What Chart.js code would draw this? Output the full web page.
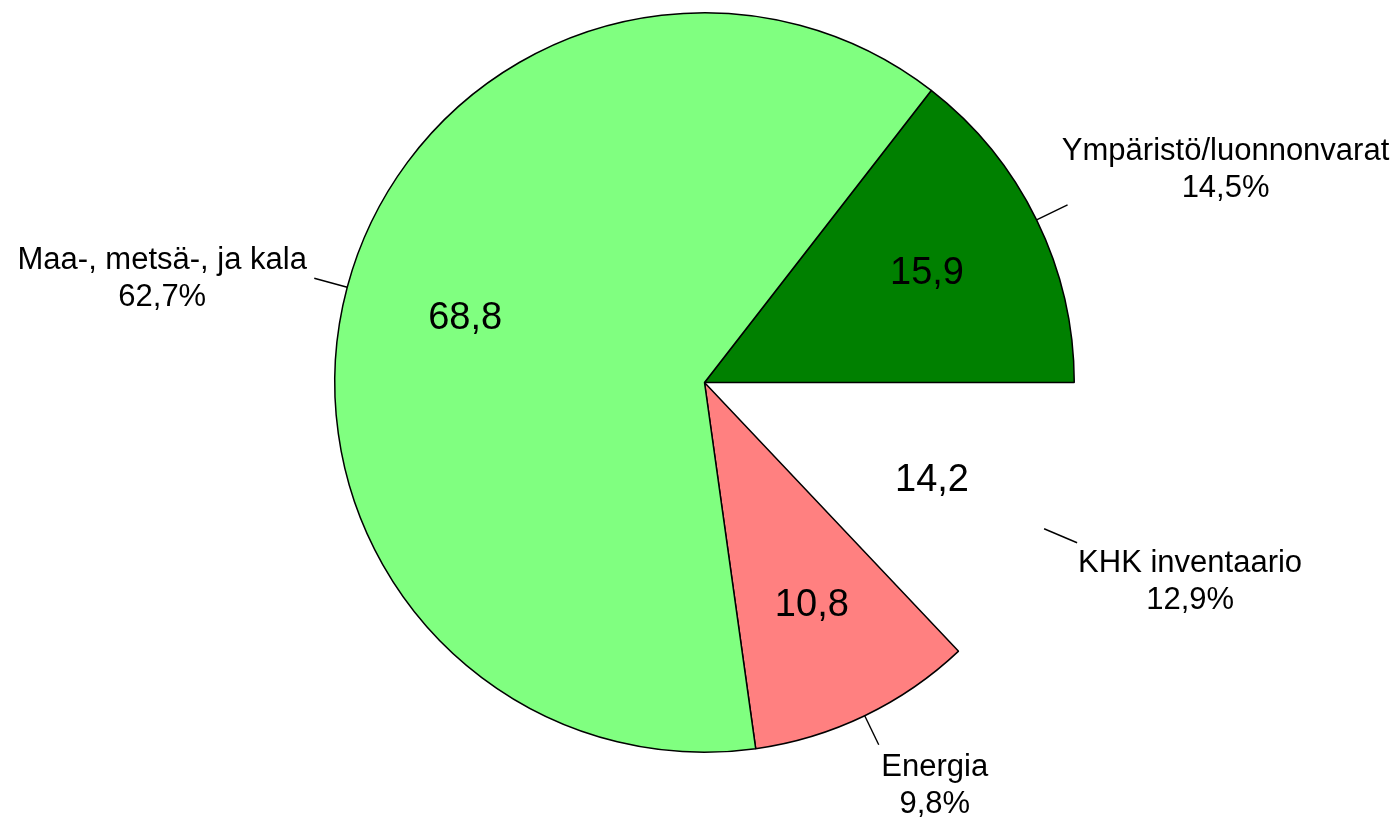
<!DOCTYPE html>
<html>
<head>
<meta charset="utf-8">
<script src="https://cdn.jsdelivr.net/npm/chart.js@4.4.1/dist/chart.umd.min.js"></script>
<style>
  html, body { margin: 0; padding: 0; background: #ffffff; }
  #wrap { width: 1395px; height: 820px; }
</style>
</head>
<body>
<div id="wrap"><canvas id="c" width="1395" height="820"></canvas></div>
<script>
// ---- data ----
const categories = ['Ympäristö/luonnonvarat', 'KHK inventaario', 'Energia', 'Maa-, metsä-, ja kala'];
const values = [15.9, 14.2, 10.8, 68.8];

// ---- styles ----
const sliceColors = ['#008000', 'rgba(0,0,0,0)', '#FF8080', '#80FF80'];
const sliceBorders = [1.5, 0, 1.5, 1.5];

// label placement (offsets from the slice's outer-arc midpoint, in px)
const leaderEnd = [[31, -15], [33, 14], [14, 29], [-33, -9]];
const textAnchor = [[189, -60], [146, 43], [70, 60], [-185, -18]];

const total = values.reduce((a, b) => a + b, 0);
const fmt = v => v.toFixed(1).replace('.', ',');

const labelPlugin = {
  id: 'pieLabels',
  afterDatasetsDraw(chart) {
    const ctx = chart.ctx;
    const meta = chart.getDatasetMeta(0);
    meta.data.forEach((arc, i) => {
      const p = arc.getProps(['x', 'y', 'startAngle', 'endAngle', 'outerRadius'], true);
      const mid = (p.startAngle + p.endAngle) / 2;
      const r = p.outerRadius;
      // inner value label
      const ir = r * 0.67;
      const ix = p.x + Math.cos(mid) * ir;
      const iy = p.y + Math.sin(mid) * ir;
      ctx.save();
      ctx.fillStyle = '#000';
      ctx.font = '38px "Liberation Sans", Arial, sans-serif';
      ctx.textAlign = 'center';
      ctx.textBaseline = 'middle';
      ctx.fillText(fmt(values[i]), ix, iy);
      // leader line
      const ax = p.x + Math.cos(mid) * r;
      const ay = p.y + Math.sin(mid) * r;
      ctx.strokeStyle = '#000';
      ctx.lineWidth = 1.4;
      ctx.beginPath();
      ctx.moveTo(ax, ay);
      ctx.lineTo(ax + leaderEnd[i][0], ay + leaderEnd[i][1]);
      ctx.stroke();
      // outer category label
      const tx = ax + textAnchor[i][0];
      const ty = ay + textAnchor[i][1];
      ctx.font = '31px "Liberation Sans", Arial, sans-serif';
      ctx.textBaseline = 'alphabetic';
      ctx.fillStyle = '#000';
      ctx.fillText(categories[i], tx, ty);
      ctx.fillText(fmt(values[i] / total * 100) + '%', tx, ty + 37);
      ctx.restore();
    });
  }
};

new Chart(document.getElementById('c'), {
  type: 'pie',
  data: {
    labels: categories,
    datasets: [{
      data: values,
      backgroundColor: sliceColors,
      borderColor: '#000',
      borderWidth: sliceBorders,
      hoverOffset: 0
    }]
  },
  options: {
    responsive: false,
    animation: false,
    rotation: 90 - values[0] / total * 360,
    layout: { padding: { left: 334, right: 320, top: 12, bottom: 67 } },
    plugins: {
      legend: { display: false },
      tooltip: { enabled: false },
      title: { display: false }
    },
    events: []
  },
  plugins: [labelPlugin]
});
</script>
</body>
</html>
